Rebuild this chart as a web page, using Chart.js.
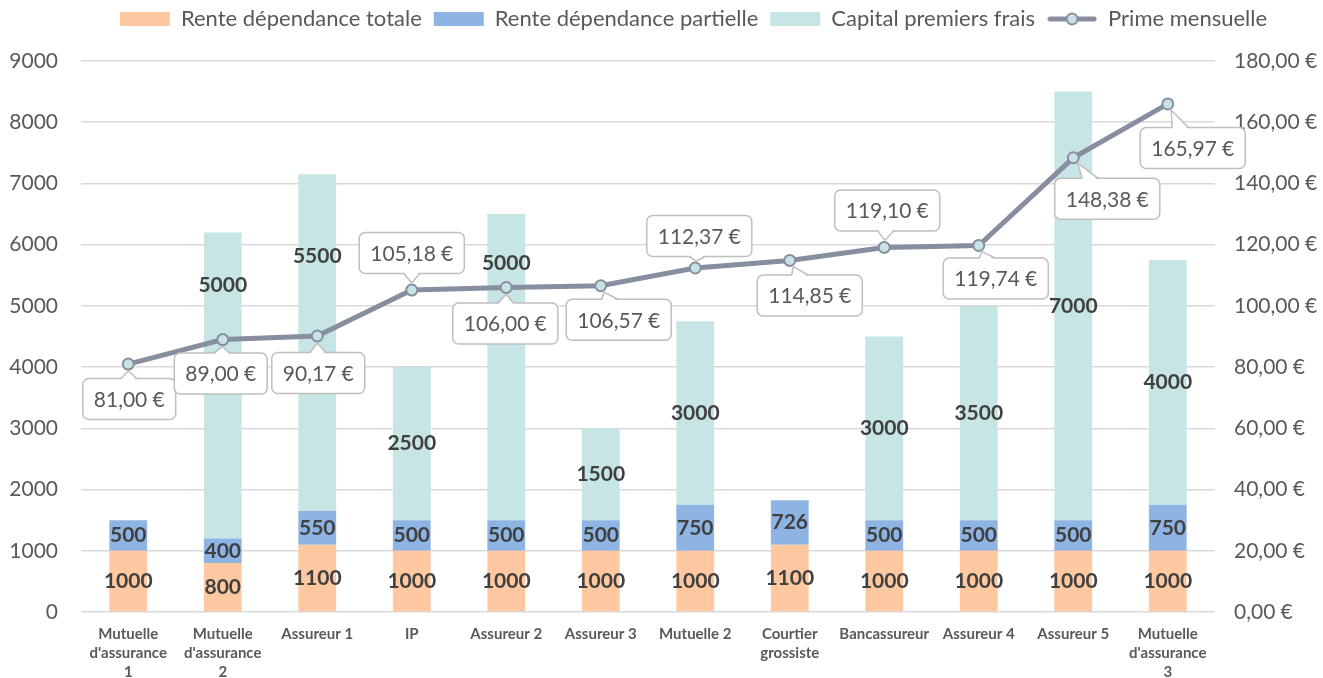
<!DOCTYPE html>
<html>
<head>
<meta charset="utf-8">
<script src="https://cdn.jsdelivr.net/npm/chart.js@4"></script>
<style>
  html, body { margin: 0; padding: 0; background: #fff; }
  #wrap { width: 1323px; height: 678px; }
</style>
</head>
<body>
<div id="wrap"><canvas id="chart"></canvas></div>
<script>
// Données
const categories = [
  ["Mutuelle", "d'assurance", "1"], ["Mutuelle", "d'assurance", "2"], "Assureur 1", "IP",
  "Assureur 2", "Assureur 3", "Mutuelle 2", ["Courtier", "grossiste"], "Bancassureur",
  "Assureur 4", "Assureur 5", ["Mutuelle", "d'assurance", "3"]
];
const renteTotale = [1000, 800, 1100, 1000, 1000, 1000, 1000, 1100, 1000, 1000, 1000, 1000];
const rentePartielle = [500, 400, 550, 500, 500, 500, 750, 726, 500, 500, 500, 750];
const capitalFrais = [null, 5000, 5500, 2500, 5000, 1500, 3000, null, 3000, 3500, 7000, 4000];
const primeMensuelle = [81.00, 89.00, 90.17, 105.18, 106.00, 106.57, 112.37, 114.85, 119.10, 119.74, 148.38, 165.97];

// placement manuel des étiquettes (px), comme dans l'original
const capitalLabelShift = [0, -100, -86, 0, -104, 0, 0, 0, 0, 0, 0, 0];
const primeLabelOffset = [[1, 35], [-2, 34], [1, 37], [0, -37], [-1, 36], [18, 34],
  [4, -32], [20, 35], [3, -37], [17, 33], [34, 41], [25, 44]];

const FONT = 'Lato';
const LINE_COLOR = '#878EA0';
const POINT_FILL = '#C7E4E3';

const euro = v => v.toFixed(2).replace('.', ',') + '\u202f€';

// petite icône ligne + rond pour la légende
const lineIcon = document.createElement('canvas');
lineIcon.width = 50; lineIcon.height = 16;
(function () {
  const c = lineIcon.getContext('2d');
  c.strokeStyle = LINE_COLOR; c.lineWidth = 5; c.lineCap = 'round';
  c.beginPath(); c.moveTo(3, 8); c.lineTo(47, 8); c.stroke();
  c.beginPath(); c.arc(25, 8, 5.5, 0, Math.PI * 2);
  c.fillStyle = POINT_FILL; c.fill(); c.lineWidth = 2; c.stroke();
})();

function callout(ctx, px, py, cx, cy, text) {
  ctx.font = '21px ' + FONT;
  const w = ctx.measureText(text).width + 22, h = 41;
  const l = cx - w / 2, t = cy - h / 2, r = cx + w / 2, b = cy + h / 2;
  // position de la pointe : bord du rond
  const ang = Math.atan2(cy - py, cx - px);
  const tx = px + Math.cos(ang) * 7, ty = py + Math.sin(ang) * 7;
  let b1, b2, f1, f2;
  const hw = 8;
  if (py < t || py > b) {
    const ey = py < t ? t : b, inset = py < t ? 2 : -2;
    const bx = Math.min(Math.max((px + cx) / 2, l + 14), r - 14);
    b1 = [bx - hw, ey]; b2 = [bx + hw, ey];
    f1 = [bx - hw, ey + inset]; f2 = [bx + hw, ey + inset];
  } else {
    const ex = px < l ? l : r, inset = px < l ? 2 : -2;
    const by = Math.min(Math.max((py + cy) / 2, t + 12), b - 12);
    b1 = [ex, by - hw]; b2 = [ex, by + hw];
    f1 = [ex + inset, by - hw]; f2 = [ex + inset, by + hw];
  }
  ctx.lineWidth = 1.5;
  ctx.strokeStyle = '#BFBFBF';
  ctx.fillStyle = '#ffffff';
  ctx.beginPath();
  ctx.roundRect(l, t, w, h, 6);
  ctx.fill(); ctx.stroke();
  ctx.beginPath();
  ctx.moveTo(f1[0], f1[1]); ctx.lineTo(tx, ty); ctx.lineTo(f2[0], f2[1]); ctx.closePath();
  ctx.fill();
  ctx.beginPath();
  ctx.moveTo(b1[0], b1[1]); ctx.lineTo(tx, ty); ctx.lineTo(b2[0], b2[1]);
  ctx.stroke();
  ctx.fillStyle = '#595959';
  ctx.textAlign = 'center'; ctx.textBaseline = 'middle';
  ctx.fillText(text, cx, cy + 1);
}

const valueLabels = {
  id: 'valueLabels',
  afterDatasetsDraw(chart) {
    const ctx = chart.ctx;
    ctx.save();
    chart.data.datasets.forEach((ds, di) => {
      if (ds.type === 'line') return;
      chart.getDatasetMeta(di).data.forEach((bar, i) => {
        const v = ds.data[i];
        if (v == null) return;
        const p = bar.getProps(['x', 'y', 'base'], true);
        const dy = ds.labelShift ? ds.labelShift[i] : 0;
        ctx.font = 'bold 21px ' + FONT;
        ctx.fillStyle = '#404040';
        ctx.textAlign = 'center'; ctx.textBaseline = 'middle';
        ctx.fillText(String(v), p.x, (p.y + p.base) / 2 + dy);
      });
    });
    const li = chart.data.datasets.findIndex(d => d.type === 'line');
    chart.getDatasetMeta(li).data.forEach((pt, i) => {
      const off = primeLabelOffset[i];
      callout(ctx, pt.x, pt.y, pt.x + off[0], pt.y + off[1], euro(primeMensuelle[i]));
    });
    ctx.restore();
  }
};

// hauteur fixe de la légende pour caler la zone de tracé
const legendSpace = {
  id: 'legendSpace',
  afterInit(chart) {
    const lg = chart.legend;
    const fit = lg.fit.bind(lg);
    lg.fit = function () { fit(); this.height = 61; };
  },
  afterLayout(chart) {
    chart.legend.left += 64;
    chart.legend.top -= 4;
  }
};

new Chart(document.getElementById('chart'), {
  data: {
    labels: categories,
    datasets: [
      {
        type: 'bar', label: 'Rente dépendance totale', data: renteTotale,
        backgroundColor: '#FFC8A0', yAxisID: 'y', order: 2
      },
      {
        type: 'bar', label: 'Rente dépendance partielle', data: rentePartielle,
        backgroundColor: '#8EB4E3', yAxisID: 'y', order: 2
      },
      {
        type: 'bar', label: 'Capital premiers frais', data: capitalFrais,
        backgroundColor: '#C6E5E4', yAxisID: 'y', order: 2, labelShift: capitalLabelShift
      },
      {
        type: 'line', label: 'Prime mensuelle', data: primeMensuelle, yAxisID: 'y1', order: 1,
        borderColor: LINE_COLOR, borderWidth: 5, tension: 0,
        pointRadius: 5.5, pointBorderWidth: 2, pointBackgroundColor: POINT_FILL,
        pointBorderColor: LINE_COLOR
      }
    ]
  },
  options: {
    responsive: true,
    maintainAspectRatio: false,
    animation: false,
    layout: { padding: 0 },
    datasets: { bar: { categoryPercentage: 1, barPercentage: 0.4 } },
    plugins: {
      tooltip: { enabled: false },
      legend: {
        position: 'top',
        labels: {
          font: { family: FONT, size: 22 },
          color: '#595959',
          usePointStyle: true,
          pointStyleWidth: 50,
          boxHeight: 14,
          padding: 12,
          sort: (a, b) => a.datasetIndex - b.datasetIndex,
          generateLabels(chart) {
            const items = Chart.defaults.plugins.legend.labels.generateLabels(chart);
            items.forEach(it => {
              if (chart.data.datasets[it.datasetIndex].type === 'line') {
                it.pointStyle = lineIcon;
              } else {
                it.pointStyle = 'rect';
                it.lineWidth = 0;
                it.strokeStyle = 'rgba(0,0,0,0)';
              }
            });
            return items;
          }
        }
      }
    },
    scales: {
      x: {
        stacked: true,
        grid: { display: false },
        border: { display: false },
        ticks: {
          font: { family: FONT, size: 15, weight: 'bold', lineHeight: 1.27 },
          color: '#595959',
          padding: 5,
          maxRotation: 0,
          autoSkip: false
        },
        afterFit(s) { s.height = 66; }
      },
      y: {
        stacked: true,
        position: 'left',
        min: 0, max: 9000,
        grid: { color: '#D9D9D9', lineWidth: 1.5, drawTicks: false },
        border: { display: false },
        ticks: {
          stepSize: 1000,
          font: { family: FONT, size: 21 },
          color: '#595959',
          padding: 23,
          callback: v => String(v)
        },
        afterFit(s) { s.width = 81; }
      },
      y1: {
        position: 'right',
        min: 0, max: 180,
        grid: { display: false, drawTicks: false },
        border: { display: false },
        ticks: {
          stepSize: 20,
          font: { family: FONT, size: 21 },
          color: '#595959',
          padding: 19,
          callback: v => euro(v)
        },
        afterFit(s) { s.width = 108; }
      }
    }
  },
  plugins: [valueLabels, legendSpace]
});
</script>
</body>
</html>
